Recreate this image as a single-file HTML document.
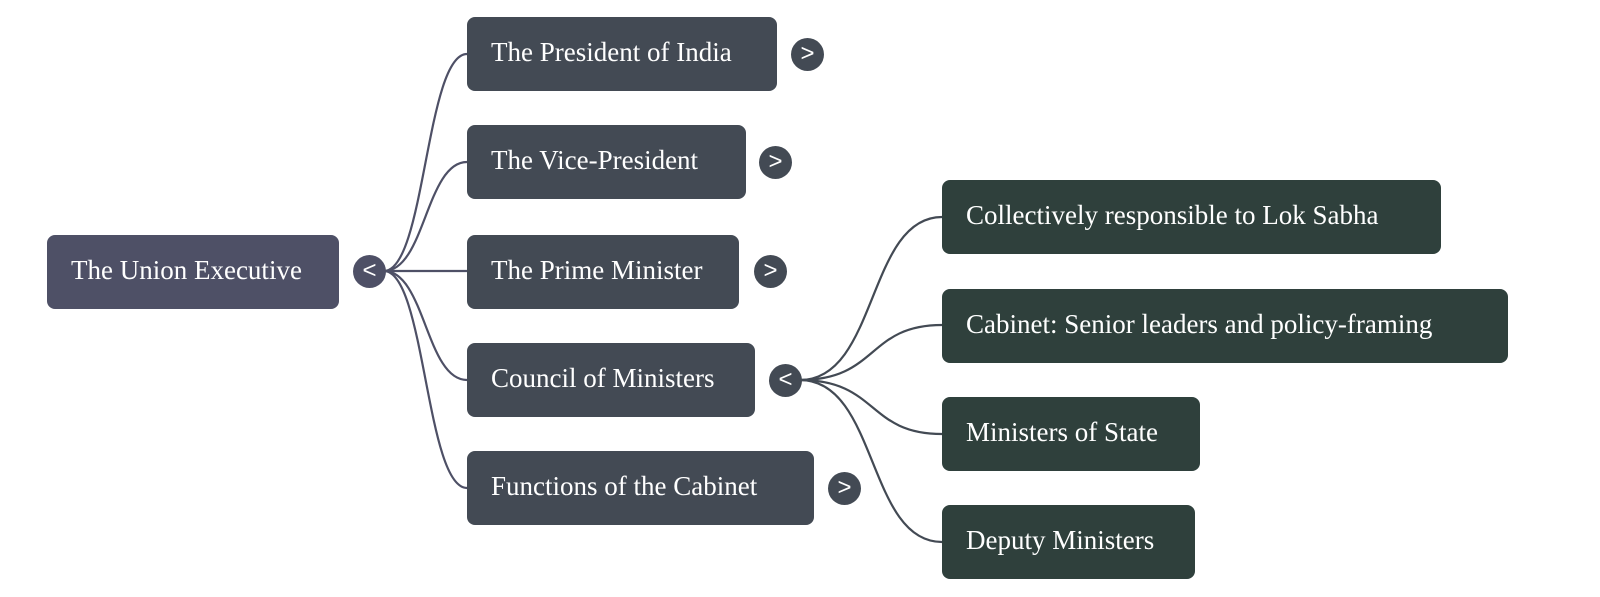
<!DOCTYPE html>
<html><head><style>
body{margin:0;width:1600px;height:597px;background:#fff;position:relative;overflow:hidden;font-family:"Liberation Serif",serif}
.b{position:absolute;height:74px;border-radius:8px;color:#fff;font-size:27px;line-height:70px;padding-left:24px;box-sizing:border-box;white-space:nowrap}
.r{background:#4e5066}.l1{background:#434a54}.l2{background:#2f403c}
.c{position:absolute;width:33px;height:33px;border-radius:50%;color:#fff;font-family:"Liberation Sans",sans-serif;font-size:24px;line-height:31px;text-align:center}
svg{position:absolute;left:0;top:0}
</style></head><body>
<svg width="1600" height="597" fill="none" stroke-width="2.2">
<g stroke="#4e5066">
<path d="M384,271 C425,271 426,54 467,54"/>
<path d="M384,271 C425,271 426,162 467,162"/>
<path d="M384,271 L467,271"/>
<path d="M384,271 C425,271 426,380 467,380"/>
<path d="M384,271 C425,271 426,488 467,488"/>
</g>
<g stroke="#434a54">
<path d="M800,380 C878,380 867,217 942,217"/>
<path d="M800,380 C878,380 867,325 942,325"/>
<path d="M800,380 C878,380 867,434 942,434"/>
<path d="M800,380 C878,380 867,542 942,542"/>
</g>
</svg>
<div class="b r" style="left:47px;top:235px;width:292px">The Union Executive</div>
<div class="c" style="left:353px;top:255px;background:#4e5066">&lt;</div>
<div class="b l1" style="left:467px;top:17px;width:310px">The President of India</div>
<div class="c" style="left:791px;top:38px;background:#434a54">&gt;</div>
<div class="b l1" style="left:467px;top:125px;width:279px">The Vice-President</div>
<div class="c" style="left:759px;top:146px;background:#434a54">&gt;</div>
<div class="b l1" style="left:467px;top:235px;width:272px">The Prime Minister</div>
<div class="c" style="left:754px;top:255px;background:#434a54">&gt;</div>
<div class="b l1" style="left:467px;top:343px;width:288px">Council of Ministers</div>
<div class="c" style="left:769px;top:364px;background:#434a54">&lt;</div>
<div class="b l1" style="left:467px;top:451px;width:347px">Functions of the Cabinet</div>
<div class="c" style="left:828px;top:472px;background:#434a54">&gt;</div>
<div class="b l2" style="left:942px;top:180px;width:499px">Collectively responsible to Lok Sabha</div>
<div class="b l2" style="left:942px;top:289px;width:566px">Cabinet: Senior leaders and policy-framing</div>
<div class="b l2" style="left:942px;top:397px;width:258px">Ministers of State</div>
<div class="b l2" style="left:942px;top:505px;width:253px">Deputy Ministers</div>
</body></html>
